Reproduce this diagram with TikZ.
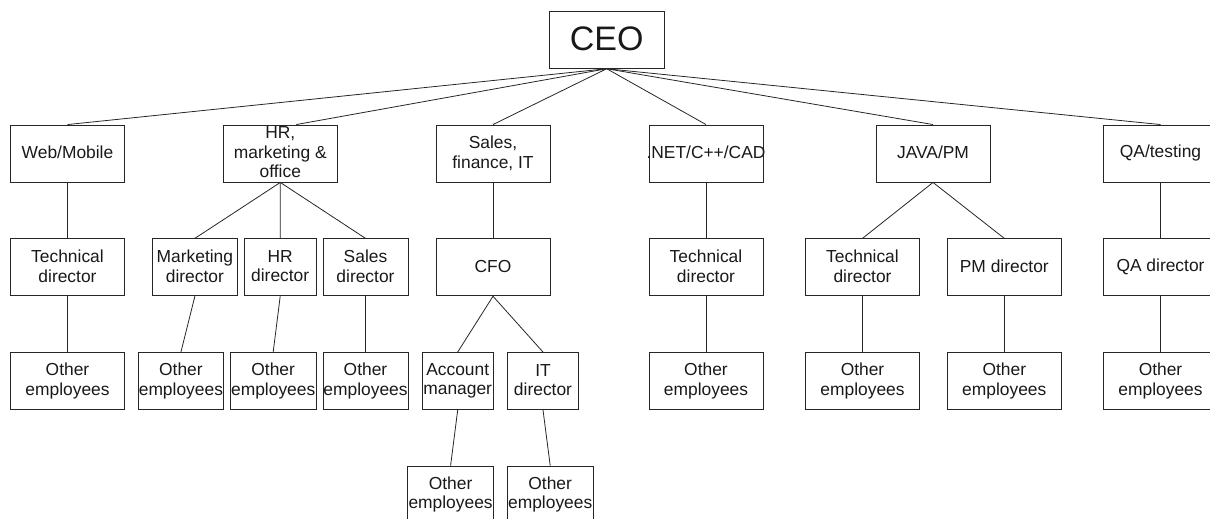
\documentclass[tikz,border=0pt]{standalone}
\usepackage{fontspec}
\setmainfont{Liberation Sans}
\newcommand\bxstrut{\rule[-2.3pt]{0pt}{14.8pt}}
\begin{document}
\begin{tikzpicture}[x=1pt,y=-1pt,
  box/.style={draw=black!85, line width=0.9pt, rectangle, inner sep=0pt, minimum height=57pt,
    align=center, text=black!90, font=\fontsize{17.4}{19.4}\selectfont,
    execute at begin node=\bxstrut, execute at end node=\bxstrut},
  wbox/.style={box, minimum width=114pt},
  link/.style={draw=black!85, line width=0.8pt}]
\useasboundingbox (0,0) rectangle (1210,519);
\clip (0,0) rectangle (1210,519);
% CEO
\node[box, minimum width=114.5pt, minimum height=56.6pt, font=\fontsize{34}{38}\selectfont,
  execute at begin node={}, execute at end node={}] (ceo) at (606.7,40) {CEO};
% row 1
\node[wbox] (web) at (67.5,153.5) {Web/Mobile};
\node[wbox] (hr) at (280.3,153.5) {HR,\\marketing \&\\office};
\node[wbox] (sales) at (493,153.5) {Sales,\\finance, IT};
\node[wbox] (net) at (706,153.5) {\makebox[0pt]{.NET/C++/CAD}};
\node[wbox] (java) at (933,153.5) {JAVA/PM};
\node[wbox] (qa) at (1160.5,153.5) {QA/testing};
% row 2
\node[wbox] (webtd) at (67.5,267.3) {Technical\\director};
\node[box, minimum width=85.7pt] (mkt) at (194.9,267.3) {Marketing\\director};
\node[box, minimum width=71.6pt] (hrd) at (280.2,267.3) {HR\\director};
\node[box, minimum width=85pt] (sald) at (365.5,267.3) {Sales\\director};
\node[wbox] (cfo) at (493,267.3) {CFO};
\node[wbox] (nettd) at (706,267.3) {Technical\\director};
\node[wbox] (javatd) at (862.5,267.3) {Technical\\director};
\node[wbox] (pm) at (1004.3,267.3) {PM director};
\node[wbox] (qad) at (1160.5,267.3) {QA director};
% row 3
\node[wbox] (webo) at (67.5,381) {Other\\employees};
\node[box, minimum width=85.7pt] (mkto) at (180.9,381) {Other\\employees};
\node[box, minimum width=85.6pt] (hro) at (273.2,381) {Other\\employees};
\node[box, minimum width=85pt] (salo) at (365.5,381) {Other\\employees};
\node[box, minimum width=71.4pt] (acct) at (457.7,381) {Account\\manager};
\node[box, minimum width=71.2pt] (itd) at (543,381) {IT\\director};
\node[wbox] (neto) at (706,381) {Other\\employees};
\node[wbox] (javao) at (862.5,381) {Other\\employees};
\node[wbox] (pmo) at (1004.3,381) {Other\\employees};
\node[wbox] (qao) at (1160.5,381) {Other\\employees};
% row 4
\node[box, minimum width=85.6pt] (accto) at (450.6,494.5) {Other\\employees};
\node[box, minimum width=85.6pt] (ito) at (550.2,494.5) {Other\\employees};
% connectors
\draw[link] (ceo.south) -- (web.north);
\draw[link] (ceo.south) -- ([xshift=16pt]hr.north);
\draw[link] (ceo.south) -- (sales.north);
\draw[link] (ceo.south) -- (net.north);
\draw[link] (ceo.south) -- (java.north);
\draw[link] (ceo.south) -- (qa.north);
\draw[link] (web.south) -- (webtd.north);
\draw[link] (hr.south) -- (mkt.north);
\draw[link] (hr.south) -- (hrd.north);
\draw[link] (hr.south) -- (sald.north);
\draw[link] (sales.south) -- (cfo.north);
\draw[link] (net.south) -- (nettd.north);
\draw[link] (java.south) -- (javatd.north);
\draw[link] (java.south) -- (pm.north);
\draw[link] (qa.south) -- (qad.north);
\draw[link] (webtd.south) -- (webo.north);
\draw[link] (mkt.south) -- (mkto.north);
\draw[link] (hrd.south) -- (hro.north);
\draw[link] (sald.south) -- (salo.north);
\draw[link] (cfo.south) -- (acct.north);
\draw[link] (cfo.south) -- (itd.north);
\draw[link] (nettd.south) -- (neto.north);
\draw[link] (javatd.south) -- (javao.north);
\draw[link] (pm.south) -- (pmo.north);
\draw[link] (qad.south) -- (qao.north);
\draw[link] (acct.south) -- (accto.north);
\draw[link] (itd.south) -- (ito.north);
\end{tikzpicture}
\end{document}
